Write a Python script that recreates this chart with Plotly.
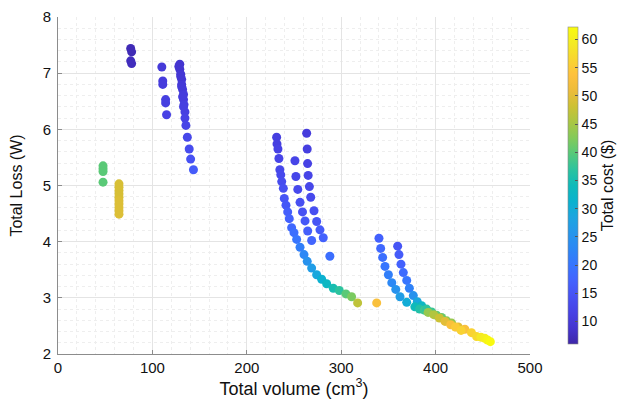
import plotly.graph_objects as go

# ---- data ----
volume_a = [77, 78, 77, 78]
loss_a = [7.44, 7.38, 7.22, 7.17]
cost_a = [7, 7, 7.5, 7.5]

volume_b = [110, 111, 111, 114, 114, 115]
loss_b = [7.11, 6.86, 6.80, 6.53, 6.47, 6.26]
cost_b = [10, 10.5, 10.5, 11, 11, 11.5]

volume_c = [129, 129, 130, 131, 131, 132, 133, 133, 133.5, 134.5, 134.5, 135.5, 137, 139, 140.5, 143.5,
            128, 130, 131, 132, 133]
loss_c = [7.16, 7.07, 6.98, 6.89, 6.80, 6.71, 6.62, 6.53, 6.44, 6.31, 6.20, 6.07, 5.86, 5.65, 5.47, 5.28,
          7.12, 6.94, 6.76, 6.58, 6.40]
cost_c = [9, 9, 9.5, 9.5, 10, 10, 10.5, 10.5, 11, 11, 11.5, 12, 12.5, 13.5, 14.5, 16,
          9, 9.5, 10, 10.5, 11]

volume_g = [47.7, 47.7, 47.7, 47.7]
loss_g = [5.35, 5.30, 5.25, 5.06]
cost_g = [40, 40, 40, 40]

volume_y = [64.6, 64.6, 64.6, 64.6, 64.6, 64.6, 64.6, 64.6, 64.6, 64.6]
loss_y = [5.03, 4.97, 4.91, 4.85, 4.79, 4.73, 4.67, 4.61, 4.55, 4.49]
cost_y = [49, 49, 49, 49, 49, 49.5, 49.5, 49.5, 49.5, 49.5]

volume_d1 = [231.6, 232, 233, 234, 235, 236, 237, 238.7, 239.7, 241.5, 243.3, 245, 247.5, 250, 252.8,
             256.4, 260.6, 264, 268.7, 274, 279.3, 284.6, 291.6, 298, 305, 311, 317.4]
loss_d1 = [5.86, 5.74, 5.65, 5.48, 5.28, 5.19, 5.07, 4.95, 4.77, 4.65, 4.53, 4.41, 4.25, 4.16, 4.04,
           3.90, 3.77, 3.65, 3.53, 3.41, 3.33, 3.25, 3.17, 3.13, 3.07, 3.02, 2.91]
cost_d1 = [11, 11, 11.5, 12, 12.5, 13, 13.5, 14, 15, 15.5, 16.5, 17, 18, 19, 20,
           21.5, 23, 25, 27, 29, 31, 33, 35, 37, 40, 42, 47]

volume_d2 = [251, 252, 254, 256.4, 259, 261.7, 264.5, 268.7]
loss_d2 = [5.44, 5.16, 4.93, 4.70, 4.53, 4.37, 4.19, 4.02]
cost_d2 = [12, 12.5, 13, 14, 14.5, 15.5, 16.5, 17.5]

volume_d3 = [263.4, 264, 264.4, 265, 266.3, 267.7, 271.2, 274, 277.5, 281, 288]
loss_d3 = [5.93, 5.65, 5.39, 5.18, 4.98, 4.79, 4.55, 4.36, 4.21, 4.07, 3.74]
cost_d3 = [10.5, 11, 11.5, 12, 12.5, 13, 14, 15, 16, 17, 19]

volume_o = [337.6]
loss_o = [2.91]
cost_o = [53]

volume_e1 = [340, 341.8, 343.9, 346.4, 350, 353.6, 357.8, 362.3, 369.4]
loss_e1 = [4.06, 3.88, 3.72, 3.56, 3.41, 3.27, 3.15, 3.02, 2.92]
cost_e1 = [17, 18, 19, 20, 21.5, 23, 25, 27, 30]

volume_e2 = [359.8, 361.2, 363.3, 365.8, 369.4, 372.2, 376.4, 380.6, 385.2]
loss_e2 = [3.92, 3.77, 3.60, 3.45, 3.31, 3.17, 3.04, 2.93, 2.86]
cost_e2 = [15, 16, 17, 18.5, 20, 22, 25, 29, 33]

volume_t = [378, 383, 388, 390.5, 395.8, 401, 406.4, 411.7, 417, 424, 431, 438, 443.4, 448, 452, 455, 458,
            392, 398, 404, 410, 416, 421, 427]
loss_t = [2.84, 2.80, 2.78, 2.80, 2.75, 2.69, 2.65, 2.59, 2.55, 2.48, 2.44, 2.38, 2.31, 2.30, 2.28, 2.25, 2.22,
          2.74, 2.70, 2.64, 2.58, 2.52, 2.48, 2.42]
cost_t = [34, 36, 38, 37, 38, 40, 41, 43, 44, 50, 53, 56, 57, 59, 60, 61, 62,
          44, 46, 48, 50, 53, 55, 56]

volume = (volume_a + volume_b + volume_c + volume_g + volume_y + volume_d1 + volume_d2 + volume_d3
          + volume_o + volume_e1 + volume_e2 + volume_t)
loss = (loss_a + loss_b + loss_c + loss_g + loss_y + loss_d1 + loss_d2 + loss_d3
        + loss_o + loss_e1 + loss_e2 + loss_t)
cost = (cost_a + cost_b + cost_c + cost_g + cost_y + cost_d1 + cost_d2 + cost_d3
        + cost_o + cost_e1 + cost_e2 + cost_t)

colorbar_ticks = [10, 15, 20, 25, 30, 35, 40, 45, 50, 55, 60]

# MATLAB parula (approximate anchors)
parula_rgb = [
    (0.2422, 0.1504, 0.6603), (0.2671, 0.2054, 0.8103), (0.2783, 0.2586, 0.8991),
    (0.2802, 0.3172, 0.9547), (0.2627, 0.3879, 0.9946), (0.2140, 0.4605, 0.9969),
    (0.1743, 0.5280, 0.9599), (0.1499, 0.5893, 0.9225), (0.1093, 0.6487, 0.8793),
    (0.0398, 0.6975, 0.8073), (0.0570, 0.7299, 0.7295), (0.1726, 0.7630, 0.6240),
    (0.3385, 0.7878, 0.4800), (0.5124, 0.7902, 0.3523), (0.6660, 0.7771, 0.2640),
    (0.8043, 0.7570, 0.2032), (0.9296, 0.7353, 0.2317), (0.9953, 0.7562, 0.2388),
    (0.9730, 0.8407, 0.1835), (0.9573, 0.9230, 0.1373), (0.9763, 0.9831, 0.0538),
]
n = len(parula_rgb) - 1
parula = [[i / n, "rgb(%d,%d,%d)" % tuple(round(c * 255) for c in rgb)] for i, rgb in enumerate(parula_rgb)]

font_family = "Liberation Sans, Arial, sans-serif"

fig = go.Figure(go.Scatter(
    x=volume, y=loss, mode="markers",
    marker=dict(
        size=9, color=cost, colorscale=parula, cmin=6, cmax=62.2,
        line=dict(width=0),
        colorbar=dict(
            x=1.059, xanchor="left", y=0.5, yanchor="middle",
            len=1.0, lenmode="fraction", thickness=10,
            outlinewidth=0.6, outlinecolor="#888888",
            ticks="inside", ticklen=3, tickcolor="#555555",
            tickvals=colorbar_ticks,
            tickfont=dict(size=14, color="#111111", family=font_family),
            title=dict(text="Total cost ($)", side="right",
                       font=dict(size=16, color="#111111", family=font_family)),
        ),
    ),
    hoverinfo="skip",
))

axis_common = dict(
    showline=True, linecolor="#8c8c8c", linewidth=1,
    ticks="inside", ticklen=4, tickcolor="#8c8c8c",
    showgrid=True, gridcolor="#e4e4e4", gridwidth=1,
    zeroline=False, mirror=False,
    tickfont=dict(size=15, color="#111111", family=font_family),
)

fig.update_xaxes(
    range=[0, 500], dtick=100, tick0=0,
    minor=dict(dtick=20, showgrid=True, gridcolor="#eeeeee", griddash="dot", ticks=""),
    title=dict(text="Total volume (cm<sup>3</sup>)", font=dict(size=18, color="#111111", family=font_family),
               standoff=6),
    **axis_common,
)
fig.update_yaxes(
    range=[2, 8], dtick=1, tick0=2,
    minor=dict(dtick=0.2, showgrid=True, gridcolor="#eeeeee", griddash="dot", ticks=""),
    title=dict(text="Total Loss (W)", font=dict(size=16, color="#111111", family=font_family),
               standoff=22),
    ticklabelstandoff=3,
    **axis_common,
)

# the page body has an 8px default margin, so the figure is sized and offset to fit the window
fig.update_layout(
    width=619, height=399,
    margin=dict(l=50, r=97, t=9, b=53, autoexpand=False),
    plot_bgcolor="white", paper_bgcolor="white",
    showlegend=False,
)

fig.write_html("out.html")
